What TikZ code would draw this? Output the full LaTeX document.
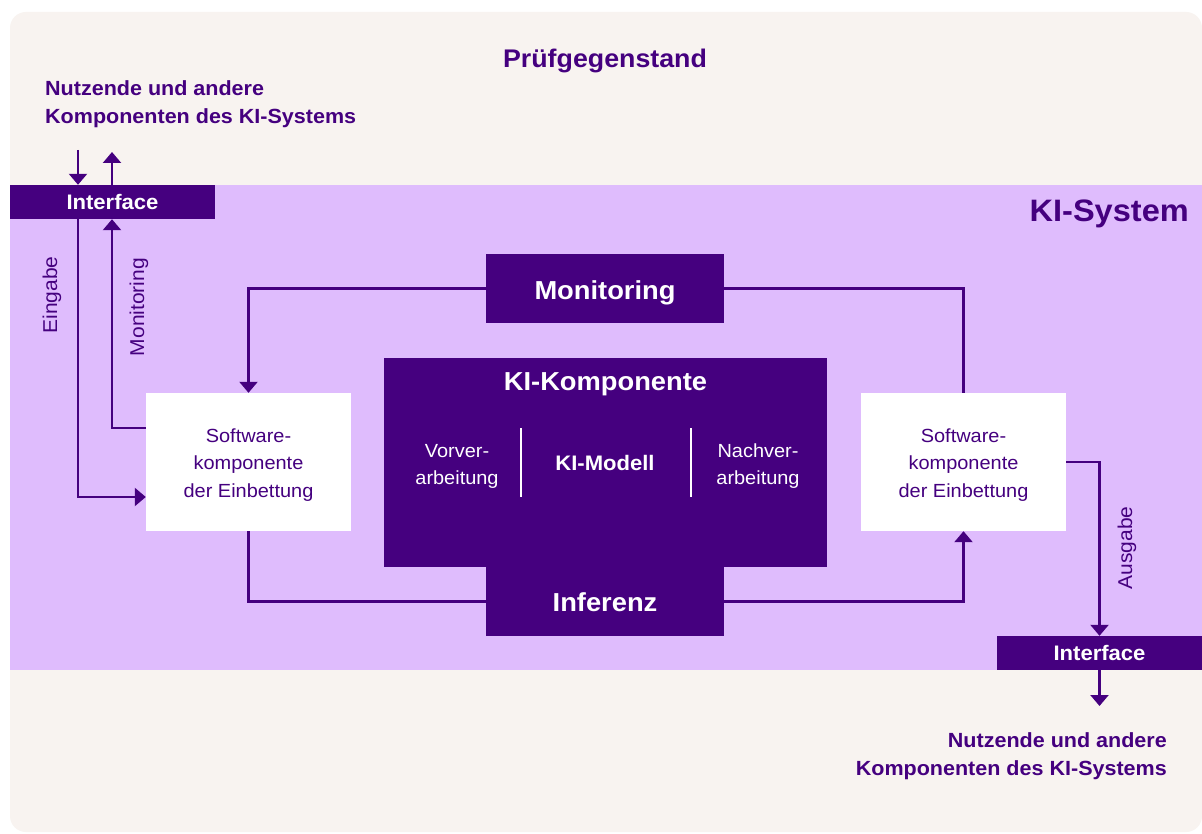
\documentclass[tikz,border=0pt]{standalone}
\usepackage{fontspec}
\setmainfont[FakeStretch=1.05]{Liberation Sans}
\usetikzlibrary{arrows.meta,calc}
\definecolor{dpurple}{HTML}{45007F}
\definecolor{lpurple}{HTML}{DFBCFD}
\definecolor{beige}{HTML}{F8F3F0}
\begin{document}
\begin{tikzpicture}[x=1pt,y=-1pt,
  darkbox/.style={fill=dpurple,draw=none,text=white,font=\bfseries\fontsize{26}{30}\selectfont,inner sep=0pt,text depth=0pt},
  whitebox/.style={fill=white,draw=none,text=dpurple,align=center,font=\fontsize{19}{27.5}\selectfont,inner sep=0pt,minimum width=205pt,minimum height=138pt},
  ifbox/.style={fill=dpurple,draw=none,text=white,font=\bfseries\fontsize{21}{24}\selectfont,inner sep=0pt,minimum width=205pt,minimum height=34pt},
  conn/.style={draw=dpurple,line width=2.3pt},
  arr/.style={conn,-{Triangle[width=18pt,length=11pt]}},
  lbl/.style={text=dpurple,font=\fontsize{20}{24}\selectfont,rotate=90},
  head/.style={text=dpurple,font=\bfseries\fontsize{20.5}{27.5}\selectfont,inner sep=0pt}
]
\useasboundingbox (0,0) rectangle (1202,834);
\fill[white] (0,0) rectangle (1202,834);
\fill[beige,rounded corners=16pt] (10,12) rectangle (1202,832);
\fill[lpurple] (10,185) rectangle (1202,670);

\node[head,anchor=base,font=\bfseries\fontsize{25.5}{30}\selectfont] (pruef) at (605,68) {Prüfgegenstand};
\node[head,anchor=base east,font=\bfseries\fontsize{31}{34}\selectfont] (kisys) at (1189,222) {KI-System};
\node[head,anchor=west,align=left] (nutzL) at (45,104) {Nutzende und andere\\Komponenten des KI-Systems};
\node[head,anchor=east,align=right] (nutzR) at (1167,756) {Nutzende und andere\\Komponenten des KI-Systems};

\node[ifbox] (ifL) at (112.5,202) {Interface};
\node[ifbox] (ifR) at (1099.5,653) {Interface};

\node[whitebox] (sw1) at (248.5,462) {};
\node[whitebox,fill=none] (sw1t) at (248.5,465) {Software-\\komponente\\der Einbettung};
\node[whitebox] (sw2) at (963.5,462) {};
\node[whitebox,fill=none] (sw2t) at (963.5,465) {Software-\\komponente\\der Einbettung};

\node[darkbox,minimum width=443pt,minimum height=209pt] (kik) at (605.5,462.5) {};
\node[darkbox] (kiktitle) at (605.5,382) {KI-Komponente};
\node[darkbox,minimum width=238pt,minimum height=69pt] (mon) at (605,288.5) {};
\node[darkbox] (montitle) at (605,290) {Monitoring};
\node[darkbox,minimum width=238pt,minimum height=69pt] (inf) at (605,601.5) {};
\node[darkbox] (inftitle) at (605,602) {Inferenz};

\node[text=white,align=center,font=\fontsize{19}{27}\selectfont] (vor) at (457,466) {Vorver-\\arbeitung};
\node[text=white,font=\bfseries\fontsize{21}{24}\selectfont,text depth=0pt] (mod) at (605,462.5) {KI-Modell};
\node[text=white,align=center,font=\fontsize{19}{27}\selectfont] (nach) at (758,466) {Nachver-\\arbeitung};
\draw[white,line width=2.5pt] (521,428) -- (521,497);
\draw[white,line width=2.5pt] (691,428) -- (691,497);

\coordinate (inTop) at (78,150);
\coordinate (outTop) at (112,152);
\coordinate (outR) at (1099.5,706);

\draw[arr] (inTop) -- (inTop |- ifL.north);
\draw[arr] (outTop |- ifL.north) -- (outTop);
\draw[arr] (inTop |- ifL.south) |- ($(sw1.west)+(0,35)$);
\draw[arr] ($(sw1.west)+(0,-34)$) -| (outTop |- ifL.south);
\draw[arr] (mon.west) -| (sw1.north);
\draw[conn] (mon.east) -| (sw2.north);
\draw[conn] (sw1.south) |- (inf.west);
\draw[arr] (inf.east) -| (sw2.south);
\draw[arr] (sw2.east) -| (ifR.north);
\draw[arr] (ifR.south) -- (outR);

\node[lbl] (eing) at (52,295) {Eingabe};
\node[lbl] (moni) at (139,307) {Monitoring};
\node[lbl] (ausg) at (1127,548) {Ausgabe};
\end{tikzpicture}
\end{document}
